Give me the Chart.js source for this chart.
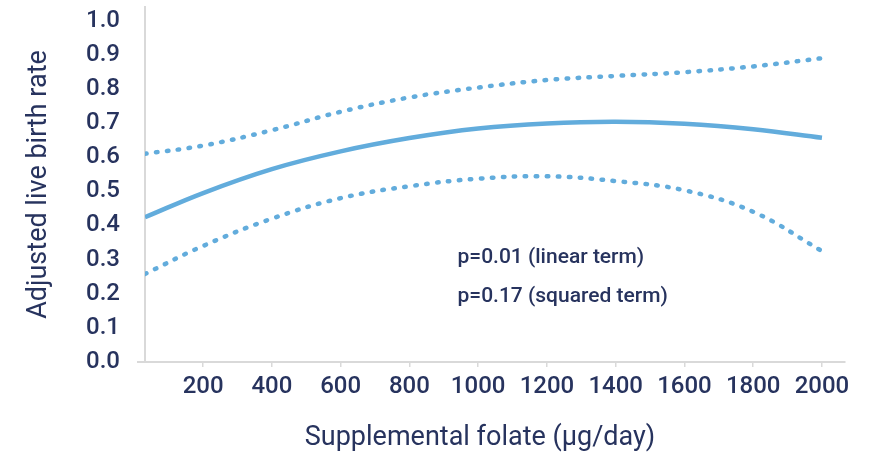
<!DOCTYPE html>
<html>
<head>
<meta charset="utf-8">
<script src="https://cdn.jsdelivr.net/npm/chart.js@4.4.1/dist/chart.umd.min.js"></script>
<style>
  html, body { margin: 0; padding: 0; background: #ffffff; }
  #wrap { width: 879px; height: 455px; }
</style>
</head>
<body>
<div id="wrap"><canvas id="c" width="879" height="455"></canvas></div>
<script>
// Supplemental folate intake (µg/day) at which the model curves are evaluated
const folate = [31, 200, 400, 600, 800, 1000, 1200, 1400, 1600, 1800, 2000];
// Adjusted live birth rate: fitted curve and its 95% confidence limits
const fitted = [0.424, 0.495, 0.565, 0.617, 0.656, 0.684, 0.699, 0.704, 0.698, 0.682, 0.657];
const upperCI = [0.610, 0.634, 0.679, 0.733, 0.775, 0.804, 0.826, 0.838, 0.849, 0.866, 0.890];
const lowerCI = [0.258, 0.340, 0.420, 0.480, 0.515, 0.537, 0.544, 0.530, 0.503, 0.440, 0.325];
// Axis ticks
const xTicks = [200, 400, 600, 800, 1000, 1200, 1400, 1600, 1800, 2000];
const yTicks = [0, 0.1, 0.2, 0.3, 0.4, 0.5, 0.6, 0.7, 0.8, 0.9, 1.0];
// Axis titles and the p-values shown inside the plot
const xTitle = 'Supplemental folate (µg/day)';
const yTitle = 'Adjusted live birth rate';
const notes = ['p=0.01 (linear term)', 'p=0.17 (squared term)'];

const NAVY = '#27335e';
const BLUE = '#62acdc';
const AXIS = '#d9d9d9';
const FONT = 'Roboto, "Noto Sans", sans-serif';

const pts = arr => folate.map((x, i) => ({ x, y: arr[i] }));

// p-value notes and the x-axis title (set slightly left of the plot centre)
const textPlugin = {
  id: 'texts',
  afterDraw(chart) {
    const { ctx, chartArea, scales: { x, y } } = chart;
    ctx.save();
    ctx.fillStyle = NAVY;
    ctx.textBaseline = 'middle';
    ctx.font = '500 21px ' + FONT;
    ctx.textAlign = 'left';
    const left = x.getPixelForValue(940);
    ctx.fillText(notes[0], left, y.getPixelForValue(0.304));
    ctx.fillText(notes[1], left, y.getPixelForValue(0.190));
    ctx.font = '400 27px ' + FONT;
    ctx.textAlign = 'center';
    ctx.fillText(xTitle, (chartArea.left + chartArea.right) / 2 - 15, chartArea.bottom + 76);
    ctx.restore();
  }
};

// keep the plot area edges fixed, ignoring the overhang of the end tick labels
const noOverhang = s => { s.paddingTop = 0; s.paddingBottom = 0; s.paddingLeft = 0; s.paddingRight = 0; };

const dotted = { borderDash: [1.5, 9.5], borderCapStyle: 'round' };

new Chart(document.getElementById('c'), {
  type: 'line',
  data: {
    datasets: [
      Object.assign({
        label: 'Upper limit',
        data: pts(upperCI),
        borderColor: BLUE,
        borderWidth: 4.5,
        pointRadius: 0,
        tension: 0.4,
        fill: false
      }, dotted),
      {
        label: 'Fitted',
        data: pts(fitted),
        borderColor: BLUE,
        borderWidth: 4.5,
        pointRadius: 0,
        tension: 0.4,
        fill: false
      },
      Object.assign({
        label: 'Lower limit',
        data: pts(lowerCI),
        borderColor: BLUE,
        borderWidth: 4.5,
        pointRadius: 0,
        tension: 0.4,
        fill: false
      }, dotted)
    ]
  },
  options: {
    responsive: false,
    animation: false,
    events: [],
    layout: { padding: { top: 7, right: 34, bottom: 0, left: 0 } },
    plugins: { legend: { display: false }, tooltip: { enabled: false } },
    scales: {
      x: {
        type: 'linear',
        min: 31,
        max: 2067,
        afterBuildTicks: s => { s.ticks = xTicks.map(v => ({ value: v })); },
        afterFit: s => { s.height = 93; noOverhang(s); },
        border: { display: true, color: AXIS, width: 2 },
        grid: { drawOnChartArea: false, drawTicks: true, tickLength: 5, color: AXIS, lineWidth: 1.5 },
        ticks: {
          color: NAVY,
          font: { family: FONT, size: 24, weight: '500' },
          padding: 6,
          maxRotation: 0,
          autoSkip: false,
          callback: v => String(v)
        },
        title: { display: false }
      },
      y: {
        type: 'linear',
        min: 0,
        max: 1.04,
        afterBuildTicks: s => { s.ticks = yTicks.map(v => ({ value: v })); },
        afterFit: s => { s.width = 145; noOverhang(s); },
        border: { display: true, color: AXIS, width: 2 },
        grid: {
          drawOnChartArea: false,
          drawTicks: true,
          tickLength: 8,
          lineWidth: 2,
          color: c => (c.tick && c.tick.value === 0 ? AXIS : 'rgba(0,0,0,0)')
        },
        ticks: {
          color: NAVY,
          font: { family: FONT, size: 24, weight: '500' },
          padding: 17,
          autoSkip: false,
          callback: v => Number(v).toFixed(1)
        },
        title: {
          display: true,
          text: yTitle,
          color: NAVY,
          font: { family: FONT, size: 27, weight: '400' },
          padding: { top: 23, bottom: 0 }
        }
      }
    }
  },
  plugins: [textPlugin]
});
</script>
</body>
</html>
